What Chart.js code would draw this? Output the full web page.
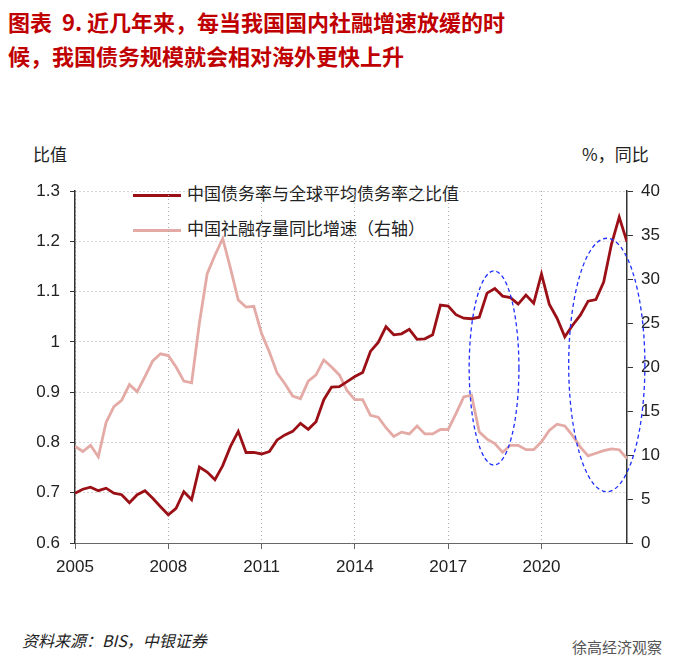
<!DOCTYPE html>
<html><head><meta charset="utf-8">
<script src="https://cdn.jsdelivr.net/npm/chart.js@4"></script>
<style>
body{margin:0;width:700px;height:670px;background:#fff;position:relative;overflow:hidden;font-family:"Noto Sans CJK SC",sans-serif}
#c{position:absolute;left:0;top:0}
.t{position:absolute;color:#c00000;font-weight:bold;font-size:22px;left:8px;line-height:34px}
.l{position:absolute;font-size:17px;color:#222}
</style></head><body>
<div class="t" style="top:4px;font-family:'Noto Sans CJK SC'">图表&nbsp; 9. 近几年来，每当我国国内社融增速放缓的时<br>候，我国债务规模就会相对海外更快上升</div>
<div class="l" style="left:33px;top:141px">比值</div>
<div class="l" style="left:582px;top:141px">%，同比</div>
<div class="l" style="left:133px;top:180px"><span style="display:inline-block;width:48px;height:3px;background:#9b1016;vertical-align:middle;margin-right:6px"></span>中国债务率与全球平均债务率之比值</div>
<div class="l" style="left:133px;top:215px"><span style="display:inline-block;width:48px;height:3px;background:#e3aaa6;vertical-align:middle;margin-right:6px"></span>中国社融存量同比增速（右轴）</div>
<div class="l" style="left:22px;top:628px;font-style:italic;font-size:16px">资料来源：BIS，中银证券</div>
<div class="l" style="left:572px;top:636px;font-size:15px;color:#555">徐高经济观察</div>
<canvas id="c" width="700" height="670"></canvas>
<script>
const startYear = 2005;
const debtRatio = [0.699,0.707,0.711,0.704,0.709,0.699,0.696,0.680,0.696,0.704,0.689,0.672,0.656,0.669,0.702,0.686,0.751,0.741,0.726,0.754,0.792,0.822,0.780,0.780,0.777,0.782,0.805,0.815,0.822,0.838,0.826,0.841,0.885,0.910,0.911,0.921,0.931,0.939,0.981,0.999,1.030,1.014,1.016,1.025,1.005,1.006,1.014,1.073,1.071,1.054,1.047,1.046,1.049,1.097,1.106,1.091,1.088,1.075,1.093,1.077,1.135,1.075,1.047,1.010,1.033,1.053,1.081,1.084,1.119,1.194,1.248,1.199];
const tsfGrowth = [11.0,10.4,11.1,9.8,13.7,15.5,16.2,18.0,17.2,18.9,20.7,21.5,21.3,20.0,18.4,18.2,25.0,30.6,32.7,34.6,31.2,27.6,26.8,26.9,23.8,21.7,19.3,18.1,16.7,16.4,18.4,19.1,20.8,20.0,19.1,17.3,16.3,16.3,14.5,14.3,13.1,12.1,12.6,12.4,13.3,12.4,12.4,12.9,12.9,14.7,16.6,16.8,12.6,11.8,11.3,10.3,11.1,11.1,10.6,10.6,11.5,12.8,13.5,13.3,12.2,10.9,9.9,10.2,10.5,10.7,10.6,9.6];
const ellipses = [{x:53.9,y:0.948,rx:3.2,ry:0.193},{x:68.4,y:0.954,rx:4.9,ry:0.252}];
const pts = a => a.map((v,i)=>({x:i,y:v}));
const tickFont = {family:"Liberation Sans",size:17};
const ellPlugin = {id:'ell',afterDatasetsDraw(ch){
  const {ctx,scales:{x,y}}=ch;
  ctx.save();ctx.strokeStyle='#1f2fff';ctx.lineWidth=1.3;ctx.setLineDash([4,3]);
  ellipses.forEach(e=>{const cx=x.getPixelForValue(e.x),cy=y.getPixelForValue(e.y);
    const rx=x.getPixelForValue(e.x+e.rx)-cx, ry=cy-y.getPixelForValue(e.y+e.ry);
    ctx.beginPath();ctx.ellipse(cx,cy,rx,ry,0,0,Math.PI*2);ctx.stroke();});
  ctx.restore();}};
new Chart(document.getElementById('c'),{
  type:'line',
  data:{datasets:[
    {data:pts(debtRatio),yAxisID:'y',borderColor:'#9b1016',borderWidth:2.8,pointRadius:0,tension:0},
    {data:pts(tsfGrowth),yAxisID:'y1',borderColor:'#e3aaa6',borderWidth:2.8,pointRadius:0,tension:0}
  ]},
  options:{responsive:false,animation:false,
    layout:{padding:{top:191,left:0,right:0,bottom:0}},
    plugins:{legend:{display:false},tooltip:{enabled:false}},
    scales:{
      x:{type:'linear',min:0,max:71,
        afterFit(s){s.height=127;},
        afterBuildTicks(s){s.ticks=[0,12,24,36,48,60].map(v=>({value:v}));},
        ticks:{autoSkip:false,maxRotation:0,font:tickFont,color:'#222',padding:8,callback:v=>startYear+v/4},
        grid:{color:'#aaa',tickColor:'#666',tickLength:6},border:{color:'#666',dash:[1,3],display:true}},
      y:{position:'left',min:0.6,max:1.3,
        afterFit(s){s.width=75;},
        ticks:{stepSize:0.1,font:tickFont,color:'#222',padding:10,callback:v=>Math.round(v*10)/10},
        grid:{color:'#aaa',drawTicks:true,tickLength:5,tickColor:'#333'},border:{color:'#333',width:1.5,dash:[1,3]}},
      y1:{position:'right',min:0,max:40,
        afterFit(s){s.width=73;},
        ticks:{stepSize:5,font:tickFont,color:'#222',padding:8},
        grid:{drawOnChartArea:false,tickLength:6,tickColor:'#333'},border:{color:'#333',width:1.5}}
    }},
  plugins:[ellPlugin]
});
</script></body></html>
